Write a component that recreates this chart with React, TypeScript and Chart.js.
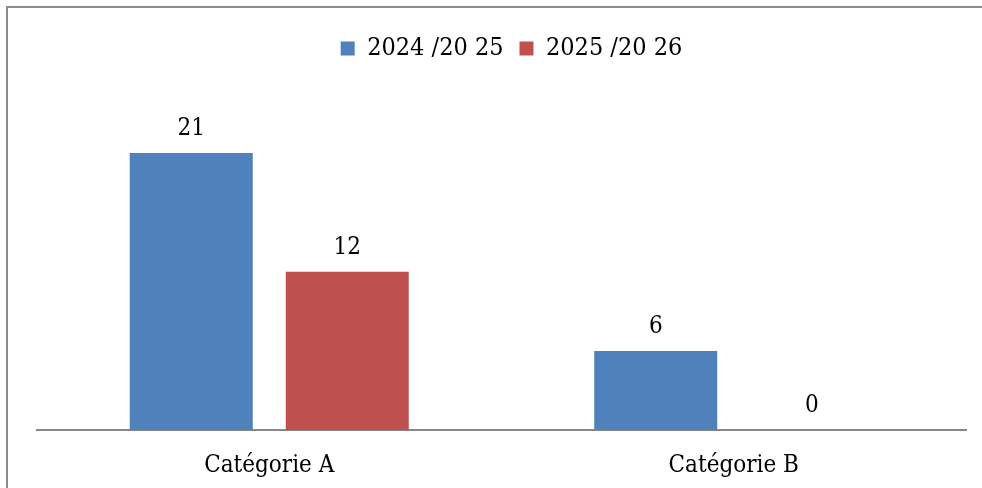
import React, { useEffect, useRef } from "react";
import { Chart, registerables } from "chart.js";

Chart.register(...registerables);

const categories = ["Catégorie A", "Catégorie B"];
const seriesLabels = ["2024 /20 25", "2025 /20 26"];
const series2024 = [21, 6];
const series2025 = [12, 0];

const FONT = "'DejaVu Serif Condensed', 'Liberation Serif', serif";

const dataLabelPlugin = {
  id: "dataLabels",
  afterDatasetsDraw(chart: any) {
    const ctx = chart.ctx;
    ctx.save();
    ctx.font = `24px ${FONT}`;
    ctx.fillStyle = "#000000";
    ctx.textAlign = "center";
    ctx.textBaseline = "alphabetic";
    chart.data.datasets.forEach((ds: any, i: number) => {
      const meta = chart.getDatasetMeta(i);
      meta.data.forEach((el: any, j: number) => {
        ctx.fillText(String(ds.data[j]), el.x, el.y - 18);
      });
    });
    ctx.restore();
  },
};

const legendShiftPlugin = {
  id: "legendShift",
  afterLayout(chart: any) {
    if (chart.legend) {
      chart.legend.left += 10;
      chart.legend.right += 10;
    }
  },
};

export default function App() {
  const ref = useRef<HTMLCanvasElement>(null);
  useEffect(() => {
    if (!ref.current) return;
    const chart = new Chart(ref.current, {
      type: "bar",
      data: {
        labels: categories,
        datasets: [
          {
            label: seriesLabels[0],
            data: series2024,
            backgroundColor: "#4F81BD",
            categoryPercentage: 0.6717,
            barPercentage: 0.7885,
          },
          {
            label: seriesLabels[1],
            data: series2025,
            backgroundColor: "#C0504D",
            categoryPercentage: 0.6717,
            barPercentage: 0.7885,
          },
        ],
      },
      options: {
        responsive: false,
        animation: false,
        layout: { padding: { left: 37, right: 16, top: 20, bottom: 3 } },
        plugins: {
          legend: {
            position: "top",
            labels: {
              boxWidth: 14,
              boxHeight: 14,
              padding: 16,
              color: "#000000",
              font: { family: FONT, size: 25 },
            },
          },
          tooltip: { enabled: false },
        },
        scales: {
          x: {
            grid: { display: false, drawTicks: false },
            border: { display: true, color: "#878787", width: 2 },
            ticks: {
              color: "#000000",
              padding: 21,
              font: { family: FONT, size: 24 },
            },
          },
          y: {
            display: false,
            min: 0,
            max: 27.2,
          },
        },
      },
      plugins: [dataLabelPlugin, legendShiftPlugin],
    });
    return () => chart.destroy();
  }, []);

  return (
    <div
      style={{
        position: "fixed",
        left: 0,
        top: 0,
        width: 982,
        height: 488,
        overflow: "hidden",
        background: "#ffffff",
      }}
    >
      <div
        style={{
          position: "absolute",
          left: 6,
          top: 6,
          width: 976,
          height: 482,
          borderLeft: "2px solid #8c8c8c",
          borderTop: "2px solid #8c8c8c",
          boxSizing: "border-box",
        }}
      />
      <canvas
        ref={ref}
        width={982}
        height={504}
        style={{ position: "absolute", left: 0, top: 0 }}
      />
    </div>
  );
}
